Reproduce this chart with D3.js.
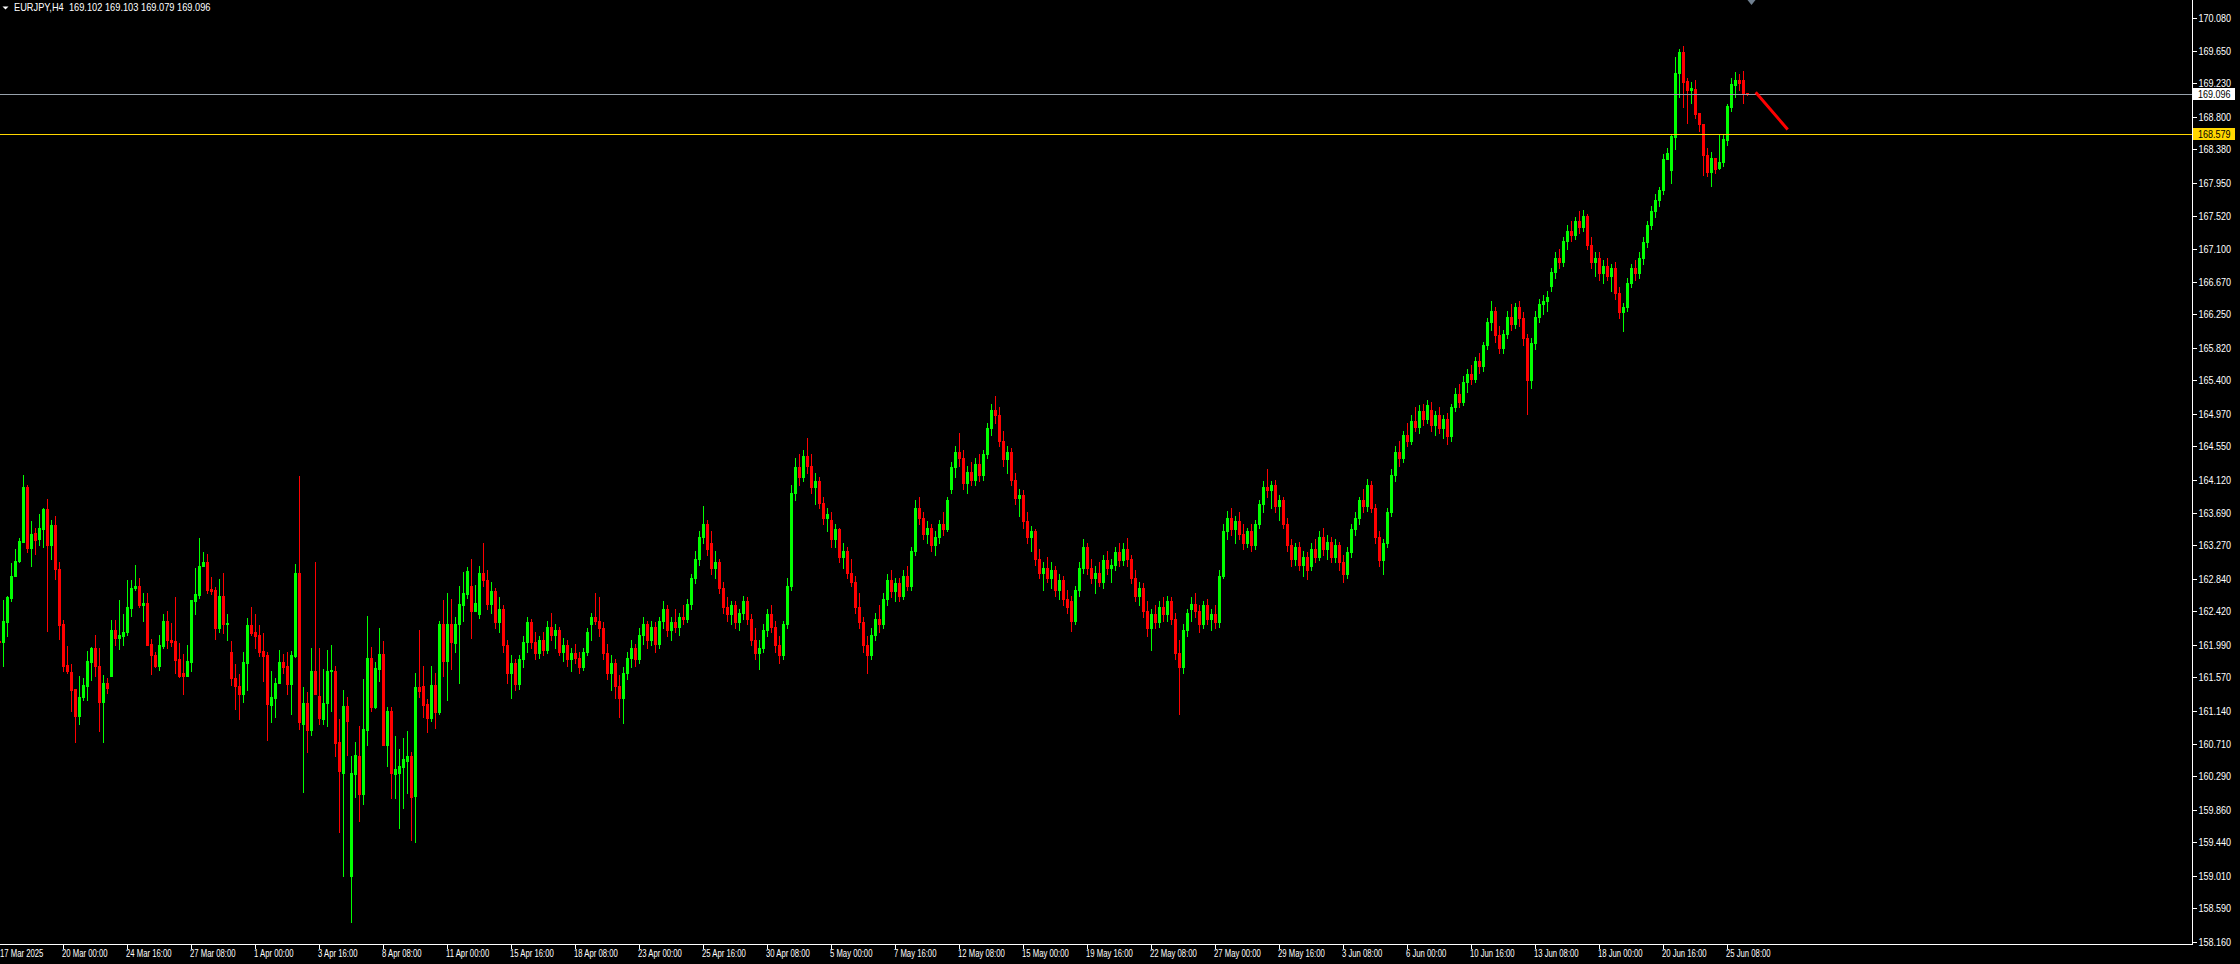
<!DOCTYPE html>
<html><head><meta charset="utf-8">
<script src="https://cdn.jsdelivr.net/npm/d3@7"></script>
<style>html,body{margin:0;padding:0;background:#000;overflow:hidden}</style>
</head><body>
<svg id="c" width="2240" height="964" style="display:block"></svg>
<script>
const headerText = "EURJPY,H4  169.102 169.103 169.079 169.096";
const firstBarTime = "2025-03-17T08:00:00Z";
const open = [162.04,162.02,162.28,162.59,162.88,163.07,163.32,164.02,163.23,163.43,163.35,163.48,163.74,163.28,163.53,162.96,162.25,161.73,161.64,161.42,161.07,161.31,161.46,161.77,161.94,161.72,161.25,161.50,161.59,162.18,162.08,162.10,162.15,162.46,162.72,162.75,162.50,162.53,162.00,161.86,161.72,161.97,162.29,162.05,162.04,161.80,161.62,161.59,161.77,162.55,162.63,163.00,163.06,162.71,162.69,162.21,162.62,162.26,161.90,161.56,161.46,161.35,161.75,162.24,162.15,162.11,161.91,161.85,161.21,161.30,161.49,161.77,161.71,161.48,161.84,162.92,160.96,161.24,160.89,161.65,161.33,161.03,161.24,161.65,161.65,160.73,160.34,161.20,159.01,160.32,160.55,160.06,160.89,161.82,161.18,161.68,161.87,160.70,161.14,160.32,160.33,160.41,160.49,160.55,160.04,161.44,161.46,161.22,161.04,161.47,161.12,162.26,161.78,162.26,162.01,162.25,162.50,162.64,162.75,162.43,
162.38,162.91,162.82,162.52,162.68,162.28,162.45,161.98,161.62,161.75,
161.48,161.80,162.02,162.28,162.02,161.88,162.05,161.92,162.22,162.12,
162.18,161.90,161.98,161.80,161.88,161.82,161.70,161.90,162.25,162.35,
162.30,162.20,161.88,161.62,161.75,161.45,161.30,161.62,161.82,161.95,
161.80,162.12,162.25,162.05,162.22,162.00,162.30,162.45,162.18,162.28,
162.22,162.35,162.32,162.52,162.85,163.10,163.38,163.55,163.30,162.98,
163.05,162.72,162.48,162.38,162.50,162.28,162.40,162.55,162.32,162.05,
161.88,161.95,162.18,162.38,162.22,161.98,161.85,162.25,162.75,163.95,
164.28,164.15,164.42,164.30,164.02,164.10,163.82,163.62,163.60,163.35,
163.48,163.12,163.20,162.92,162.80,162.48,162.28,161.98,161.85,162.12,
162.32,162.25,162.58,162.82,162.68,162.78,162.62,162.88,162.75,163.20,
163.75,163.62,163.42,163.50,163.28,163.38,163.55,163.48,164.00,164.28,
164.48,164.40,164.08,164.22,164.12,164.32,164.18,164.45,164.78,165.02,
164.95,164.62,164.38,164.48,164.12,163.88,163.92,163.58,163.38,163.45,
163.10,162.92,162.98,162.85,162.95,162.70,162.82,162.58,162.55,162.30,
162.70,162.98,163.25,162.98,162.85,162.92,162.80,163.08,162.98,163.02,
163.18,163.08,163.22,163.10,162.85,162.62,162.72,162.42,162.20,162.38,
162.28,162.48,162.38,162.55,162.32,161.88,161.70,162.18,162.45,162.52,
162.42,162.25,162.50,162.32,162.38,162.28,162.88,163.45,163.62,163.48,
163.58,163.42,163.30,163.45,163.28,163.55,163.80,164.02,163.98,164.05,
163.78,163.85,163.55,163.28,163.10,163.25,163.02,163.12,163.00,163.22,
163.12,163.38,163.22,163.32,163.12,163.28,163.05,162.90,163.18,163.48,
163.62,163.85,163.78,164.05,163.75,163.38,163.08,163.30,163.70,164.18,
164.48,164.40,164.70,164.62,164.88,164.80,165.00,164.90,165.02,164.82,
164.95,164.78,164.90,164.68,165.05,165.22,165.12,165.38,165.48,165.42,
165.65,165.58,165.85,166.15,166.30,165.98,165.82,166.00,166.22,166.12,
166.35,166.20,165.95,165.40,165.88,166.22,166.38,166.42,166.62,166.80,
166.98,166.92,167.20,167.32,167.28,167.45,167.38,167.52,167.15,166.92,
166.98,166.78,166.88,166.75,166.85,166.52,166.28,166.35,166.65,166.85,
166.78,166.98,167.18,167.40,167.58,167.72,167.86,168.25,168.11,168.54,
169.37,169.64,169.26,169.15,169.16,168.85,168.71,168.30,168.09,168.27,
168.14,168.21,168.50,168.93,169.21,169.28,169.28,169.102];
const high = [162.08,162.56,162.62,163.04,163.22,163.36,164.18,164.05,163.58,163.50,163.67,163.75,163.87,163.60,163.65,163.05,162.31,161.97,161.74,161.42,161.58,161.56,161.91,161.96,162.12,161.94,161.60,161.56,162.31,162.31,162.57,162.39,162.82,162.82,163.02,162.85,162.66,162.66,162.06,161.90,162.11,162.39,162.43,162.27,162.60,162.01,161.87,161.98,162.56,162.98,163.36,163.18,163.16,162.86,162.73,162.83,162.92,162.39,162.04,161.74,161.61,161.90,162.33,162.48,162.38,162.24,162.14,161.89,161.65,161.56,161.92,161.87,161.89,161.91,163.03,164.17,161.44,161.38,161.95,163.05,161.95,161.67,161.92,161.99,161.72,161.03,161.40,161.32,160.55,160.73,160.94,161.54,162.36,161.96,161.76,162.20,162.04,161.18,161.18,160.81,160.64,160.79,160.88,160.60,161.62,162.18,161.71,161.29,161.72,161.62,162.30,162.57,162.65,162.58,162.34,162.75,162.93,162.99,163.10,162.76,
163.00,163.30,162.95,162.80,162.72,162.60,162.50,162.05,161.85,161.80,
161.85,162.10,162.35,162.32,162.15,162.10,162.15,162.30,162.40,162.25,
162.22,162.08,162.05,161.95,162.00,161.90,161.95,162.20,162.40,162.66,
162.60,162.28,162.00,161.85,161.80,161.60,161.70,161.90,162.05,162.00,
162.20,162.35,162.30,162.30,162.28,162.35,162.55,162.50,162.35,162.45,
162.40,162.50,162.58,162.90,163.20,163.45,163.78,163.60,163.45,163.20,
163.10,162.80,162.60,162.55,162.55,162.45,162.62,162.60,162.38,162.20,
162.05,162.25,162.45,162.50,162.30,162.10,162.30,162.85,164.05,164.40,
164.45,164.50,164.65,164.45,164.20,164.15,163.90,163.75,163.70,163.55,
163.50,163.30,163.25,163.10,162.88,162.65,162.35,162.10,162.20,162.40,
162.50,162.65,162.90,162.95,162.85,162.85,162.95,163.00,163.25,163.85,
163.90,163.70,163.58,163.55,163.45,163.60,163.70,163.90,164.35,164.55,
164.72,164.50,164.30,164.35,164.40,164.45,164.50,164.85,165.10,165.20,
165.05,164.75,164.55,164.52,164.20,164.00,163.98,163.70,163.52,163.48,
163.22,163.05,163.12,163.05,163.00,162.90,162.88,162.70,162.62,162.75,
163.05,163.35,163.30,163.10,163.00,163.05,163.15,163.20,163.10,163.25,
163.30,163.30,163.36,163.15,162.95,162.80,162.78,162.55,162.45,162.50,
162.55,162.60,162.62,162.60,162.40,162.05,162.25,162.45,162.60,162.65,
162.50,162.55,162.58,162.45,162.50,162.95,163.55,163.72,163.75,163.65,
163.70,163.55,163.50,163.55,163.60,163.85,164.10,164.26,164.10,164.12,
163.92,163.90,163.62,163.35,163.30,163.32,163.20,163.18,163.30,163.35,
163.45,163.50,163.40,163.38,163.35,163.32,163.15,163.25,163.55,163.70,
163.90,164.00,164.13,164.10,163.80,163.45,163.35,163.75,164.25,164.55,
164.62,164.75,164.85,164.95,165.05,165.08,165.10,165.15,165.12,165.00,
165.05,164.95,164.98,165.10,165.30,165.35,165.45,165.55,165.60,165.70,
165.75,165.90,166.20,166.42,166.35,166.10,166.05,166.30,166.38,166.40,
166.42,166.28,166.00,165.95,166.30,166.45,166.50,166.55,166.85,167.05,
167.10,167.25,167.40,167.45,167.50,167.58,167.60,167.55,167.25,167.05,
167.05,166.95,166.98,166.90,166.92,166.60,166.40,166.72,166.90,166.95,
167.05,167.25,167.45,167.65,167.80,167.89,168.32,168.40,168.57,169.57,
169.68,169.71,169.30,169.25,169.27,168.85,168.71,168.40,168.35,168.27,
168.57,168.57,168.97,169.30,169.38,169.35,169.39,169.103];
const low = [161.98,161.71,162.10,162.55,162.88,163.06,163.32,163.18,163.00,163.16,163.28,163.25,162.17,163.09,162.83,162.06,161.65,161.62,161.13,160.73,160.96,161.28,161.28,161.53,161.59,160.88,160.73,161.36,161.59,161.98,161.93,161.98,162.11,162.36,162.69,162.48,162.30,161.99,161.61,161.70,161.66,161.94,161.94,161.97,161.62,161.57,161.35,161.58,161.65,162.38,162.59,163.00,162.65,162.64,162.06,162.15,162.14,162.05,161.47,161.16,161.03,161.25,161.40,162.11,161.94,161.84,161.52,160.76,160.99,161.05,161.49,161.62,161.35,161.09,161.83,160.90,160.09,160.61,160.83,161.35,160.96,160.96,160.94,161.13,160.55,159.57,159.00,160.56,158.41,160.02,159.72,159.94,160.70,161.13,161.17,161.52,160.70,160.43,160.01,160.01,159.62,159.88,160.07,159.47,159.45,161.32,161.05,160.86,161.00,160.92,161.10,161.58,161.28,161.68,161.90,161.49,162.30,162.59,162.07,162.42,
162.33,162.75,162.45,162.40,162.20,162.15,161.90,161.50,161.30,161.40,
161.42,161.70,161.90,161.95,161.80,161.82,161.85,161.88,162.05,161.95,
161.85,161.78,161.72,161.65,161.75,161.62,161.66,161.85,162.05,162.25,
162.10,161.80,161.55,161.40,161.30,161.05,160.98,161.55,161.70,161.72,
161.75,162.00,161.95,161.98,161.90,161.95,162.20,162.10,162.05,162.15,
162.12,162.25,162.28,162.45,162.78,163.02,163.30,163.15,162.90,162.85,
162.65,162.40,162.30,162.25,162.20,162.18,162.32,162.25,161.98,161.80,
161.68,161.90,162.10,162.15,161.90,161.75,161.80,162.20,162.70,163.85,
164.05,164.10,164.20,163.95,163.80,163.75,163.55,163.45,163.25,163.25,
163.05,162.98,162.85,162.75,162.40,162.20,161.90,161.62,161.80,162.05,
162.15,162.20,162.50,162.60,162.55,162.55,162.58,162.70,162.70,163.15,
163.55,163.35,163.30,163.20,163.15,163.30,163.40,163.45,163.95,164.15,
164.30,164.00,163.95,164.05,164.05,164.10,164.12,164.40,164.70,164.85,
164.55,164.30,164.20,164.05,163.80,163.65,163.50,163.30,163.20,163.02,
162.85,162.70,162.80,162.72,162.62,162.58,162.50,162.40,162.16,162.25,
162.62,162.92,162.90,162.78,162.65,162.75,162.72,162.90,162.80,162.95,
163.00,163.02,163.00,162.78,162.55,162.50,162.35,162.10,161.92,162.20,
162.22,162.30,162.30,162.25,161.80,161.10,161.62,162.10,162.30,162.35,
162.15,162.20,162.25,162.18,162.20,162.22,162.85,163.35,163.40,163.30,
163.35,163.22,163.25,163.20,163.22,163.50,163.70,163.90,163.75,163.70,
163.60,163.50,163.20,163.00,163.02,162.95,162.88,162.84,162.95,163.05,
163.08,163.15,163.10,163.05,163.05,162.95,162.80,162.85,163.12,163.40,
163.55,163.70,163.72,163.70,163.30,163.00,162.90,163.25,163.65,164.10,
164.30,164.35,164.55,164.58,164.75,164.72,164.82,164.85,164.75,164.70,
164.72,164.65,164.58,164.62,165.00,165.05,165.08,165.25,165.35,165.38,
165.50,165.52,165.80,166.05,165.90,165.75,165.75,165.95,166.05,166.08,
166.10,165.85,164.96,165.30,165.80,166.15,166.25,166.30,166.55,166.72,
166.85,166.88,167.10,167.20,167.22,167.30,167.32,167.10,166.85,166.75,
166.70,166.65,166.70,166.55,166.45,166.20,166.03,166.30,166.60,166.70,
166.72,166.90,167.12,167.35,167.50,167.65,167.80,168.25,167.95,168.39,
169.05,168.92,168.72,168.98,168.78,168.61,168.05,168.03,167.90,168.08,
168.13,168.16,168.44,168.87,169.06,169.15,168.98,169.079];
const close = [162.02,162.29,162.60,162.88,163.07,163.33,164.02,163.23,163.42,163.34,163.49,163.74,163.28,163.53,162.96,162.24,161.72,161.65,161.41,161.07,161.32,161.47,161.78,161.94,161.71,161.25,161.50,161.43,162.18,162.08,162.11,162.15,162.47,162.72,162.75,162.50,162.53,161.99,161.85,161.72,161.98,162.29,162.05,162.03,161.79,161.59,161.59,161.78,162.56,162.64,163.01,163.06,162.70,162.68,162.21,162.62,162.26,162.27,161.56,161.45,161.35,161.76,162.24,162.14,162.10,161.90,161.84,161.22,161.31,161.49,161.77,161.70,161.48,161.85,162.92,160.99,161.24,160.89,161.65,161.35,161.04,161.24,161.65,161.66,160.72,160.36,161.20,161.00,160.33,160.56,160.06,160.90,161.82,161.18,161.69,161.87,160.70,161.13,160.33,160.38,160.42,160.51,160.55,160.03,161.44,161.39,161.21,161.04,161.47,161.12,162.26,161.78,162.26,162.02,162.26,162.51,162.65,162.94,162.43,162.53,
162.91,162.82,162.52,162.68,162.28,162.45,161.98,161.62,161.75,161.48,
161.80,162.02,162.28,162.02,161.88,162.05,161.92,162.22,162.12,162.18,
161.90,161.98,161.80,161.88,161.82,161.70,161.90,162.15,162.35,162.30,
162.20,161.88,161.62,161.75,161.45,161.30,161.62,161.82,161.95,161.80,
162.12,162.25,162.05,162.22,162.00,162.30,162.45,162.18,162.28,162.22,
162.35,162.32,162.52,162.85,163.10,163.38,163.55,163.22,162.98,163.05,
162.72,162.48,162.38,162.50,162.28,162.40,162.55,162.32,162.05,161.88,
161.95,162.18,162.38,162.22,161.98,161.85,162.25,162.75,163.95,164.28,
164.15,164.42,164.30,164.02,164.10,163.82,163.62,163.68,163.35,163.48,
163.12,163.20,162.92,162.80,162.48,162.28,161.98,161.85,162.12,162.32,
162.25,162.58,162.82,162.68,162.78,162.62,162.88,162.75,163.20,163.75,
163.62,163.42,163.50,163.28,163.38,163.55,163.48,163.85,164.28,164.48,
164.40,164.08,164.22,164.12,164.32,164.18,164.45,164.78,165.02,164.95,
164.62,164.38,164.48,164.12,163.88,163.92,163.58,163.38,163.45,163.10,
162.92,162.98,162.85,162.95,162.70,162.82,162.58,162.48,162.30,162.70,
162.98,163.25,162.98,162.85,162.92,162.80,163.08,162.98,163.02,163.18,
163.08,163.22,163.10,162.85,162.62,162.72,162.42,162.20,162.38,162.28,
162.48,162.38,162.55,162.32,161.88,161.70,162.18,162.40,162.52,162.42,
162.25,162.50,162.32,162.38,162.28,162.88,163.45,163.62,163.48,163.58,
163.42,163.30,163.45,163.28,163.55,163.80,164.02,163.98,164.05,163.78,
163.85,163.55,163.28,163.10,163.25,163.02,163.12,162.95,163.22,163.12,
163.38,163.22,163.32,163.12,163.28,163.05,162.90,163.18,163.48,163.62,
163.85,163.78,164.05,163.75,163.38,163.08,163.30,163.70,164.18,164.48,
164.40,164.70,164.62,164.88,164.80,165.00,164.90,165.08,164.82,164.95,
164.78,164.90,164.68,165.05,165.22,165.12,165.38,165.48,165.42,165.65,
165.58,165.85,166.15,166.30,165.98,165.82,166.00,166.22,166.12,166.35,
166.20,165.95,165.40,165.88,166.22,166.38,166.42,166.48,166.80,166.98,
166.92,167.20,167.32,167.28,167.45,167.38,167.52,167.15,166.92,166.98,
166.78,166.88,166.75,166.85,166.52,166.28,166.35,166.65,166.85,166.78,
166.98,167.18,167.40,167.58,167.72,167.86,168.26,168.33,168.55,169.37,
169.64,169.25,169.15,169.17,168.84,168.70,168.30,168.09,168.27,168.12,
168.22,168.51,168.94,169.22,169.28,169.24,169.10,169.096];
const priceTicks = [170.080,169.650,169.230,168.800,168.380,167.950,167.520,167.100,166.670,166.250,165.820,165.400,164.970,164.550,164.120,163.690,163.270,162.840,162.420,161.990,161.570,161.140,160.710,160.290,159.860,159.440,159.010,158.590,158.160];
const firstDateLabel = "17 Mar 2025";
const timeTickLabels = ["20 Mar 00:00","24 Mar 16:00","27 Mar 08:00","1 Apr 00:00","3 Apr 16:00","8 Apr 08:00","11 Apr 00:00","15 Apr 16:00","18 Apr 08:00","23 Apr 00:00","25 Apr 16:00","30 Apr 08:00","5 May 00:00","7 May 16:00","12 May 08:00","15 May 00:00","19 May 16:00","22 May 08:00","27 May 00:00","29 May 16:00","3 Jun 08:00","6 Jun 00:00","10 Jun 16:00","13 Jun 08:00","18 Jun 00:00","20 Jun 16:00","25 Jun 08:00"];
const bidLevel = 169.096;
const alertLevel = 168.579;
const trendBars = [439.3, 446.8];
const trendPrices = [169.10, 168.65];
const shiftMarkerBar = 438;

const W = 2240, H = 964, axisX = 2192, axisY = 944;
const svg = d3.select("#c");
svg.append("rect").attr("width", W).attr("height", H).attr("fill", "#000");

// bar times (H4, Mon-Fri)
const nBars = 448;
const times = [];
let t = new Date(firstBarTime);
for (let i = 0; i < nBars; i++) {
  times.push(new Date(t));
  t = new Date(t.getTime() + 4 * 3600 * 1000);
  if (t.getUTCDay() === 6) t = new Date(t.getTime() + 48 * 3600 * 1000);
}
const fmt = d3.utcFormat("%-d %b %H:%M");

const x = d3.scaleLinear().domain([0, nBars]).range([-0.5, -0.5 + nBars * 4]);
const y = d3.scaleLinear().domain([158.16, 170.08]).range([941.5, 17.5]);

const g = svg.append("g").attr("shape-rendering", "crispEdges");
const bars = open.map((o, i) => ({i, o, h: high[i], l: low[i], c: close[i]}));
const cg = g.selectAll("g.c").data(bars).join("g").attr("class", "c");
const col = d => d.c >= d.o ? "#00ff00" : "#ff0000";
cg.append("rect")
  .attr("x", d => Math.floor(x(d.i)))
  .attr("y", d => Math.round(y(d.h)))
  .attr("width", 1)
  .attr("height", d => Math.max(1, Math.round(y(d.l)) - Math.round(y(d.h)) + 1))
  .attr("fill", col);
cg.append("rect")
  .attr("x", d => Math.floor(x(d.i)) - 1)
  .attr("y", d => Math.round(y(Math.max(d.o, d.c))))
  .attr("width", 3)
  .attr("height", d => Math.max(1, Math.round(y(Math.min(d.o, d.c))) - Math.round(y(Math.max(d.o, d.c))) + 1))
  .attr("fill", col);

// horizontal levels
g.append("line").attr("x1", 0).attr("x2", axisX).attr("y1", Math.round(y(bidLevel)) + 0.5).attr("y2", Math.round(y(bidLevel)) + 0.5)
  .attr("stroke", "#98a2ac").attr("stroke-width", 1);
g.append("line").attr("x1", 0).attr("x2", axisX).attr("y1", Math.round(y(alertLevel)) + 0.5).attr("y2", Math.round(y(alertLevel)) + 0.5)
  .attr("stroke", "#ffd700").attr("stroke-width", 1);

// trend line
svg.append("line")
  .attr("x1", x(trendBars[0])).attr("y1", y(trendPrices[0]))
  .attr("x2", x(trendBars[1])).attr("y2", y(trendPrices[1]))
  .attr("stroke", "#ff0000").attr("stroke-width", 3).attr("stroke-linecap", "square");

// shift marker
const mx = x(shiftMarkerBar);
svg.append("path").attr("d", `M${mx-4},0 L${mx+4},0 L${mx},5 Z`).attr("fill", "#708090");

// frame
g.append("line").attr("x1", axisX + 0.5).attr("x2", axisX + 0.5).attr("y1", 0).attr("y2", axisY + 1).attr("stroke", "#fff");
g.append("line").attr("x1", 0).attr("x2", axisX + 1).attr("y1", axisY + 0.5).attr("y2", axisY + 0.5).attr("stroke", "#fff");

const font = "'Liberation Sans', Arial, sans-serif";
// price axis
const ya = d3.axisRight(y).tickValues(priceTicks).tickSize(4).tickSizeOuter(0).tickPadding(2).tickFormat(d3.format(".3f"));
const yg = svg.append("g").attr("transform", `translate(${axisX + 0.5},0)`).call(ya);
yg.select(".domain").remove();
yg.selectAll(".tick line").attr("stroke", "#fff").attr("shape-rendering", "crispEdges");
yg.selectAll(".tick text").attr("fill", "#ffffff").attr("font-family", font).attr("font-size", 11)
  .attr("x", 6).attr("textLength", 32.5).attr("lengthAdjust", "spacingAndGlyphs");

// price tags
function tag(price, bg, fg) {
  const yy = Math.round(y(price));
  svg.append("rect").attr("x", axisX + 1).attr("y", yy - 6).attr("width", 42).attr("height", 12).attr("fill", bg).attr("shape-rendering", "crispEdges");
  svg.append("text").attr("x", axisX + 6).attr("y", yy + 0.5).attr("dy", "0.35em").attr("fill", fg)
    .attr("font-family", font).attr("font-size", 11).attr("textLength", 32.5).attr("lengthAdjust", "spacingAndGlyphs")
    .text(d3.format(".3f")(price));
}
tag(bidLevel, "#ffffff", "#000000");
tag(alertLevel, "#ffd700", "#000000");

// time axis
const tickIdx = timeTickLabels.map(lbl => times.findIndex(tt => fmt(tt) === lbl));
const xa = svg.append("g");
const tickData = timeTickLabels.map((lbl, k) => ({lbl, i: tickIdx[k]})).filter(d => d.i >= 0);
xa.selectAll("line").data(tickData).join("line")
  .attr("x1", d => Math.floor(x(d.i)) + 0.5).attr("x2", d => Math.floor(x(d.i)) + 0.5)
  .attr("y1", axisY).attr("y2", axisY + 5).attr("stroke", "#fff").attr("shape-rendering", "crispEdges");
const labelScale = 54 / 70;
const tl = xa.selectAll("text").data([{lbl: firstDateLabel, x0: 0}].concat(tickData.map(d => ({lbl: d.lbl, x0: Math.floor(x(d.i)) - 1}))))
  .join("text")
  .attr("x", d => d.x0).attr("y", 953).attr("dy", "0.35em")
  .attr("fill", "#ffffff").attr("font-family", font).attr("font-size", 11)
  .text(d => d.lbl);
tl.each(function() { const L = this.getComputedTextLength(); d3.select(this).attr("textLength", L * labelScale * 10 / 11).attr("lengthAdjust", "spacingAndGlyphs"); });

// header
svg.append("path").attr("d", "M2.5,6.5 L8.5,6.5 L5.5,9.5 Z").attr("fill", "#fff");
const ht = svg.append("text").attr("x", 14).attr("y", 7.5).attr("dy", "0.35em").attr("fill", "#fff")
  .attr("font-family", font).attr("font-size", 11).style("white-space", "pre").text(headerText);
ht.attr("textLength", 196.5).attr("lengthAdjust", "spacingAndGlyphs");
</script>
</body></html>
